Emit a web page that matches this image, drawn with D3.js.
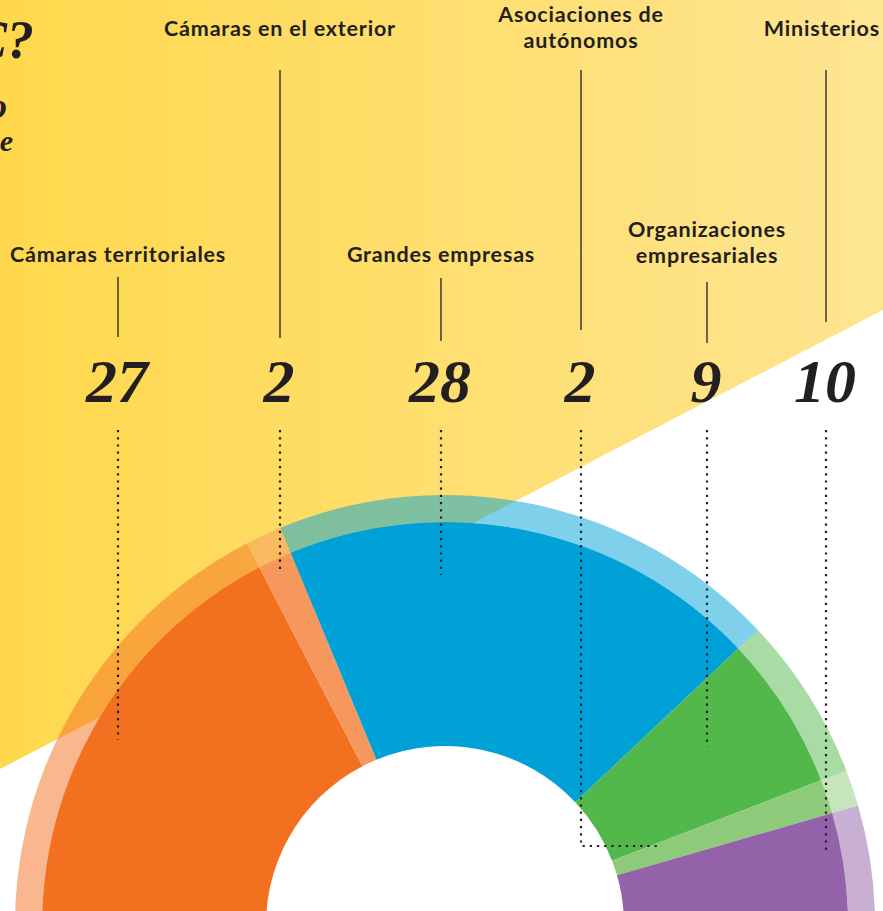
<!DOCTYPE html>
<html>
<head>
<meta charset="utf-8">
<script src="https://cdn.jsdelivr.net/npm/d3@7"></script>
<style>
  html, body { margin: 0; padding: 0; background: #ffffff; }
  svg { display: block; }
</style>
</head>
<body>
<svg id="chart" width="883" height="911"></svg>
<script>
// ---- DATA ----
const categories = ["Cámaras territoriales", "Cámaras en el exterior", "Grandes empresas",
                    "Asociaciones de autónomos", "Organizaciones empresariales", "Ministerios"];
const seats = [27, 2, 28, 2, 9, 10];
const labelLines = [["Cámaras territoriales"], ["Cámaras en el exterior"], ["Grandes empresas"],
                    ["Asociaciones de", "autónomos"], ["Organizaciones", "empresariales"], ["Ministerios"]];
// order of the categories around the half donut (clockwise from the left)
const ringOrder = [0, 1, 2, 4, 3, 5];

// ---- STYLE / LAYOUT ----
const colors = ["#F37021", "#F6975D", "#00A1D7", "#8DCB7B", "#53B84C", "#9362A8"];
const labelX   = [118, 280, 441, 581, 707, 826];
const labelTop = [262, 36, 262, 22, 237, 36];        // baseline of first label line
const lineGap  = 26;
const lineTop  = [277, 70, 278, 70, 282, 70];
const lineBot  = [337, 338, 341, 330, 343, 322];
const dotEndY  = [740, 572, 575, 846, 747, 852];
const dotEndX  = [null, null, null, 662, null, null];

const W = 883, H = 911;
const cx = 445, cy = 925;
const rIn = 179, rBand = 403, rRing = 430;

const svg = d3.select("#chart");
const defs = svg.append("defs");
const grad = defs.append("linearGradient").attr("id", "bg")
  .attr("x1", 0).attr("x2", 1).attr("y1", 0).attr("y2", 0);
grad.append("stop").attr("offset", "0%").attr("stop-color", "#FFD84B");
grad.append("stop").attr("offset", "100%").attr("stop-color", "#FEE592");

svg.append("rect").attr("width", W).attr("height", H).attr("fill", "#ffffff");
svg.append("path")
  .attr("d", `M0,0 L${W},0 L${W},310 L0,769 Z`)
  .attr("fill", "url(#bg)");

// title fragments (cut off on the left, as in the original layout)
svg.append("text").attr("x", 34).attr("y", 58).attr("text-anchor", "end")
  .style("font-family", "'Liberation Serif', serif").style("font-weight", "bold")
  .style("font-style", "italic").style("font-size", "54px").attr("fill", "#231F20").text("C?");
svg.append("text").attr("x", 7).attr("y", 118).attr("text-anchor", "end")
  .style("font-family", "'Liberation Serif', serif").style("font-weight", "bold")
  .style("font-style", "italic").style("font-size", "36px").attr("fill", "#231F20").text("o");
svg.append("text").attr("x", 13).attr("y", 151).attr("text-anchor", "end")
  .style("font-family", "'Liberation Serif', serif").style("font-weight", "bold")
  .style("font-style", "italic").style("font-size", "30px").attr("fill", "#231F20").text("e");

// ---- DONUT ----
const deg = Math.PI / 180;
const pie = d3.pie().sort(null).value(i => seats[i])
  .startAngle(-94.2 * deg).endAngle(98.6 * deg);
const arcs = pie(ringOrder);
const bandArc = d3.arc().innerRadius(rIn).outerRadius(rBand);
const ringArc = d3.arc().innerRadius(rBand).outerRadius(rRing);

const g = svg.append("g").attr("transform", `translate(${cx},${cy})`);
g.selectAll("path.ring").data(arcs).join("path").attr("class", "ring")
  .attr("d", ringArc).attr("fill", d => colors[d.data]).attr("fill-opacity", 0.5);
g.selectAll("path.band").data(arcs).join("path").attr("class", "band")
  .attr("d", bandArc).attr("fill", d => colors[d.data]);

// ---- LABELS ----
const ink = "#231F20";
categories.forEach((c, i) => {
  labelLines[i].forEach((ln, k) => {
    const t = svg.append("text").attr("x", labelX[i]).attr("y", labelTop[i] + k * lineGap)
      .attr("text-anchor", "middle")
      .style("font-family", "Lato, 'Open Sans', sans-serif").style("font-weight", "bold")
      .style("font-size", "21.5px").style("letter-spacing", "0.8px").attr("fill", ink)
      .text(ln);
    const bb = t.node().getBBox();
    const over = bb.x + bb.width - (W - 3);
    if (over > 0) t.attr("x", labelX[i] - over);
  });
  svg.append("line").attr("x1", labelX[i]).attr("x2", labelX[i])
    .attr("y1", lineTop[i]).attr("y2", lineBot[i])
    .attr("stroke", ink).attr("stroke-width", 1.3);
  svg.append("text").attr("x", labelX[i] - 1).attr("y", 402).attr("text-anchor", "middle")
    .style("font-family", "'Liberation Serif', serif").style("font-weight", "bold")
    .style("font-style", "italic").style("font-size", "62px").attr("fill", ink)
    .text(seats[i]);
  const pts = [[labelX[i], 430], [labelX[i], dotEndY[i]]];
  if (dotEndX[i] !== null) pts.push([dotEndX[i], dotEndY[i]]);
  svg.append("path").attr("d", d3.line()(pts)).attr("fill", "none")
    .attr("stroke", ink).attr("stroke-width", 2.2).attr("stroke-dasharray", "2.2 5");
});
</script>
</body>
</html>
